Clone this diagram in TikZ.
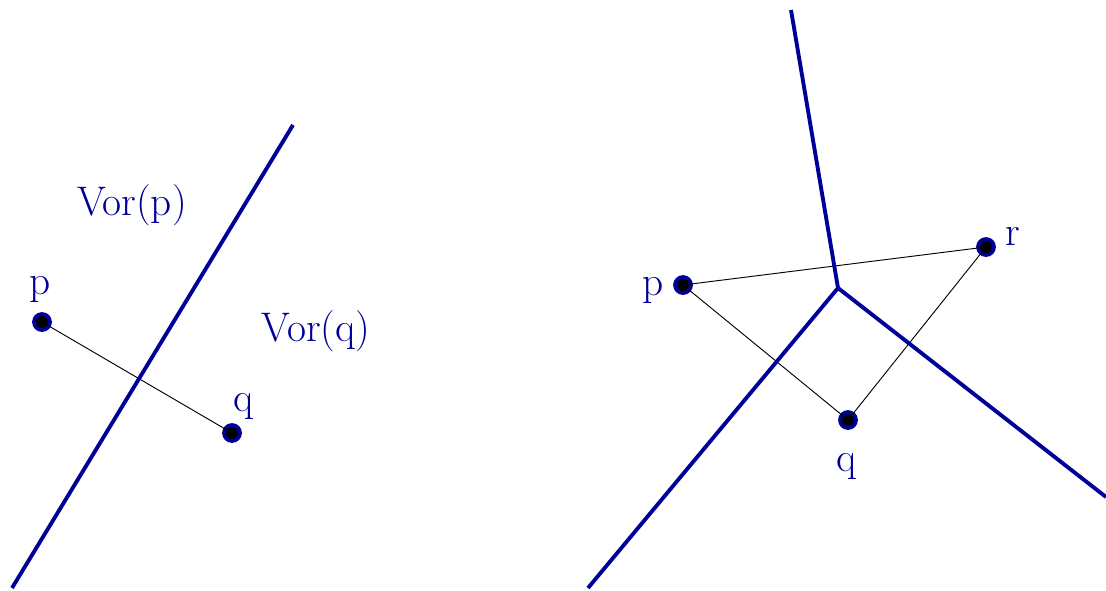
\documentclass[tikz,border=0pt]{standalone}
\usepackage{xcolor}
\usepackage{tikz}
\usetikzlibrary{positioning}
\definecolor{vblue}{RGB}{0,0,153}

\begin{document}
\begin{tikzpicture}[x=0.75pt,y=-0.75pt,
    site/.style={circle, fill=black, draw=vblue, line width=2.8pt, inner sep=0pt, minimum size=12pt},
    lbl/.style={text=vblue, font=\fontsize{31}{36}\selectfont, inner sep=0pt},
    bisector/.style={draw=vblue, line width=2.9pt},
    link/.style={draw=black, line width=0.7pt}]
       \useasboundingbox (0,0) rectangle (1106,590);

       % two sites
       \node[site] (p1) at (42,322) {};
       \node[site] (q1) at (232,433) {};
       \node[lbl, anchor=base] (lp1) at (40,294) {p};
       \node[lbl, anchor=base] (lq1) at (244,411) {q};
       \node[lbl, anchor=base] (vp) at (132,215) {Vor(p)};
       \node[lbl, anchor=base] (vq) at (316,341) {Vor(q)};
       \coordinate (b1) at (12,588);
       \coordinate (b2) at (293,125);

       \path[link] (p1.center) -- (q1.center);
       \path[bisector] (b1) -- (b2);

       % three sites
       \node[site] (p2) at (683,285) {};
       \node[site] (q2) at (848,420) {};
       \node[site] (r2) at (986,247) {};
       \node[lbl, anchor=base] (lp2) at (653,295) {p};
       \node[lbl, anchor=base] (lq2) at (847,471) {q};
       \node[lbl, anchor=base] (lr2) at (1013,245) {r};
       \coordinate (v) at (838,288);
       \coordinate (e1) at (791,10);
       \coordinate (e2) at (588,588);
       \coordinate (e3) at (1106,497);

       \path[link] (p2.center) -- (q2.center) -- (r2.center) -- cycle;
       \path[bisector] (v) -- (e1) (v) -- (e2) (v) -- (e3);
\end{tikzpicture}
\end{document}
